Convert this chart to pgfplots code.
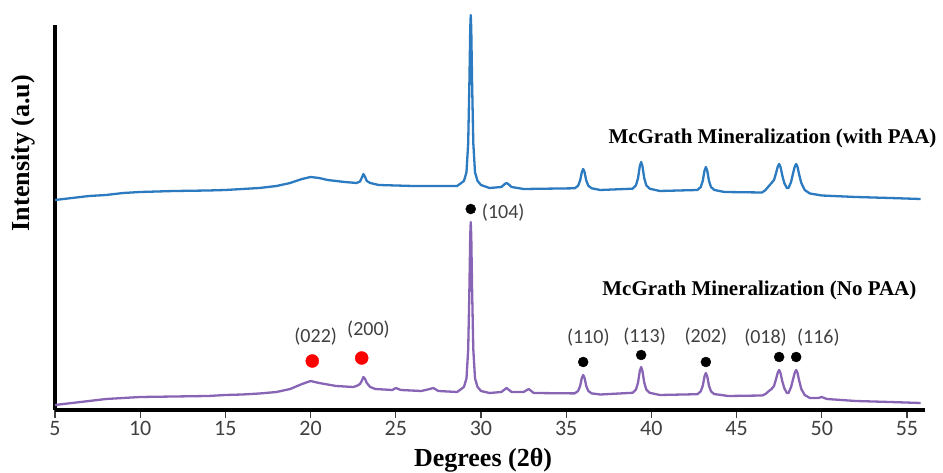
\documentclass[border=0pt]{standalone}
\usepackage{fontspec}
\setmainfont{Liberation Serif}
\newfontfamily\carlito{Carlito}
\usepackage{pgfplots}
\pgfplotsset{compat=1.18}
\definecolor{xrdblue}{RGB}{44,122,192}
\definecolor{xrdpurple}{RGB}{136,100,180}
\definecolor{lblgray}{RGB}{64,64,64}

% y values are px above the x axis line (1 px = 1 pt)
\pgfplotstableread{
deg y
5 210
6 212
7 214
8 215
9 217
10 218
12 219
14 219.5
15 220
16 221
17 222
18 224
18.8 227
19.5 231
20.0 233
20.5 232
21 230
22 228
22.7 227
22.9 228.5
23.0 232
23.1 236
23.2 233
23.3 229
23.5 227
24 225
26 224
28.6 224
29.0 229
29.15 237.7
29.25 266.8
29.32 326.6
29.37 381.3
29.4 395
29.43 381.3
29.48 326.6
29.55 266.8
29.65 237.7
29.8 229
30.0 225
30.5 222
31.2 223
31.4 226
31.5 227
31.6 226
31.8 223
32.5 221
35.5 221.7
35.7 224.2
35.82 229.5
35.92 237.9
36.0 241
36.08 237.9
36.18 229.5
36.3 224.2
36.5 221.7
37 220
38.9 221.3
39.1 224.8
39.22 232
39.32 243.7
39.4 248
39.48 243.7
39.58 232
39.7 224.8
39.9 221.3
40.5 219
42.7 220
42.9 223
43.02 229.3
43.12 239.3
43.2 243
43.28 239.3
43.38 229.3
43.5 223
43.7 220
44.3 218
46.5 217.5
46.7 220
46.9 224
47.05 227
47.2 230
47.32 237
47.42 243.5
47.5 246
47.58 243
47.68 235
47.8 227
47.95 222
48.05 222
48.2 228
48.32 237
48.42 243.5
48.5 246
48.58 243
48.68 235
48.8 227
49.0 220
49.3 216.5
50 214.5
52 213
54 212
55.8 211
}\withpaa

\pgfplotstableread{
deg y
5 5
6 7
7 9
8 11
9 12
10 13
12 13.5
14 14
15 15
16 15.5
17 16.5
18 18
18.8 21
19.5 26
20.0 29
20.5 27
21.5 24
22.5 23
22.7 24
22.9 26
23.0 29
23.1 33
23.2 31
23.3 27
23.5 23
23.8 21
24.8 20
25.0 22
25.3 20
26.5 19
27.0 21
27.2 22
27.5 19
28.6 18
29.0 23
29.15 31.6
29.25 60.5
29.32 120
29.37 174.4
29.4 188
29.43 174.4
29.48 120
29.55 60.5
29.65 31.6
29.8 23
30.0 19
30.5 17
31.2 18
31.5 22
31.8 18
32.5 18
32.8 21
33.1 17
35.5 16.6
35.7 19
35.82 24
35.92 32
36.0 35
36.08 32
36.18 24
36.3 19
36.5 16.6
37 15.5
38.9 17.2
39.1 20.6
39.22 27.6
39.32 38.8
39.4 43
39.48 38.8
39.58 27.6
39.7 20.6
39.9 17.2
40.5 15
42.7 15.8
42.9 18.6
43.02 24.4
43.12 33.6
43.2 37
43.28 33.6
43.38 24.4
43.5 18.6
43.7 15.8
43.9 15.5
44.5 14
46.5 14.5
46.7 16
46.9 19
47.05 21
47.2 24
47.32 31
47.42 37.5
47.5 40
47.58 37
47.68 29
47.8 22
47.95 17
48.05 17
48.2 23
48.32 31
48.42 37.5
48.5 40
48.58 37
48.68 29
48.8 21
49.0 15
49.3 12
49.8 12
50.0 13
50.3 11
52 9
54 8
55.8 7
}\nopaa

\begin{document}
\begin{tikzpicture}
\useasboundingbox (-55pt,-63pt) rectangle (888pt,410pt);
\begin{axis}[
    scale only axis,
    width=870pt, height=385pt,
    xmin=5, xmax=56.06,
    ymin=0, ymax=385,
    clip=false,
    axis lines*=left,
    axis line style={line width=4.5pt, black},
    ytick=\empty,
    xtick={5,10,...,55},
    tick align=outside,
    major tick length=8pt,
    tick style={line width=1.2pt, lblgray},
    /pgf/number format/assume math mode=true,
    xticklabel style={font=\carlito\fontsize{22}{22}\selectfont, text=lblgray, yshift=0pt},
    xlabel={Degrees (2θ)},
    xlabel style={at={(rel axis cs:0.492,-0.13)}, anchor=center,
                  font=\bfseries\fontsize{26}{28}\selectfont},
    ylabel={Intensity (a.u)},
    ylabel style={at={(rel axis cs:-0.036,0.667)}, anchor=center, rotate=0,
                  font=\bfseries\fontsize{26}{28}\selectfont},
]
\addplot[xrdblue, line width=2.3pt, line join=round] table[x=deg, y=y] {\withpaa};
\addplot[xrdpurple, line width=2.3pt, line join=round] table[x=deg, y=y] {\nopaa};

% phase markers
\addplot[only marks, mark=*, mark size=5pt, black]
    coordinates {(29.4,201) (36.0,48) (39.4,55) (43.2,48) (47.5,53) (48.5,53)};
\addplot[only marks, mark=*, mark size=6.5pt, red]
    coordinates {(20.1,49) (23.0,52)};

% Miller indices
\begin{scope}[font=\carlito\fontsize{20}{20}\selectfont, text=lblgray]
\node[anchor=west] at (axis cs:29.85,197) {(104)};
\node at (axis cs:36.3,72) {(110)};
\node at (axis cs:39.6,73) {(113)};
\node at (axis cs:43.2,73) {(202)};
\node at (axis cs:46.7,72) {(018)};
\node at (axis cs:49.8,72) {(116)};
\node at (axis cs:20.3,73) {(022)};
\node at (axis cs:23.4,80) {(200)};
\end{scope}

\node[anchor=east, font=\bfseries\fontsize{21}{24}\selectfont]
    at (axis cs:56.94,272) {McGrath Mineralization (with PAA)};
\node[anchor=east, font=\bfseries\fontsize{21}{24}\selectfont]
    at (axis cs:55.76,120) {McGrath Mineralization (No PAA)};
\end{axis}
\end{tikzpicture}
\end{document}
